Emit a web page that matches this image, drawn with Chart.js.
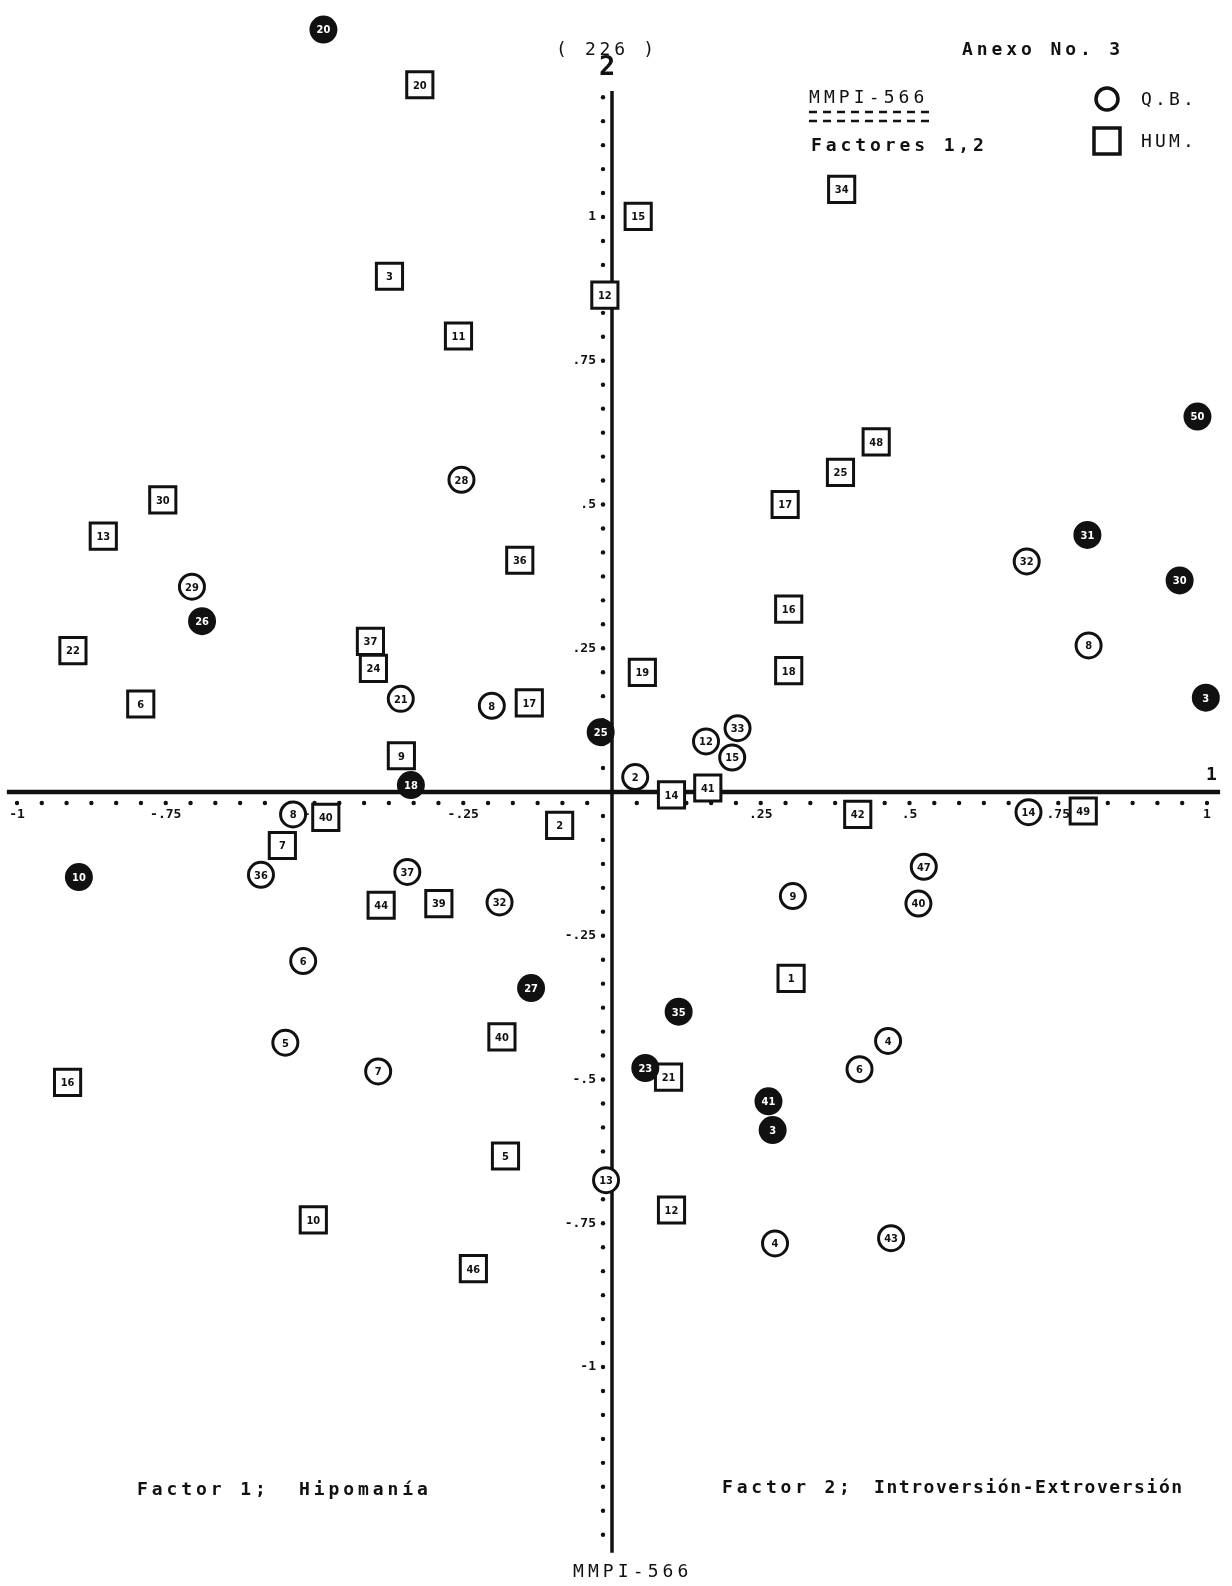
<!DOCTYPE html>
<html>
<head>
<meta charset="utf-8">
<script src="https://cdn.jsdelivr.net/npm/chart.js@4"></script>
<style>
  html, body { margin: 0; padding: 0; background: #fff; }
  #wrap { position: relative; width: 1232px; height: 1586px; overflow: hidden; background: #fff; }
  #c { position: absolute; left: 0; top: 0; }
  .t { position: absolute; font-family: "DejaVu Sans Mono", "Liberation Mono", monospace; font-weight: bold;
       font-size: 18px; line-height: 20px; white-space: pre; color: #111; }
</style>
</head>
<body>
<div id="wrap">
  <canvas id="c" width="1232" height="1586"></canvas>
  <div class="t" style="left:556px; top:39px; letter-spacing:3.7px; font-weight:normal;">( 226 )</div>
  <div class="t" style="left:599px; top:52px; font-size:27px; line-height:28px;">2</div>
  <div class="t" style="left:962px; top:39px; letter-spacing:3.9px;">Anexo No. 3</div>
  <div class="t" style="left:809px; top:87px; letter-spacing:4.1px; font-weight:normal;">MMPI-566</div>
  <div class="t" style="left:811px; top:135px; letter-spacing:3.9px;">Factores 1,2</div>
  <div class="t" style="left:1141px; top:89px; letter-spacing:3.2px; font-weight:normal;">Q.B.</div>
  <div class="t" style="left:1141px; top:131px; letter-spacing:3.2px; font-weight:normal;">HUM.</div>
  <div class="t" style="left:1206px; top:764px;">1</div>
  <div class="t" style="left:137px; top:1479px; letter-spacing:3.9px;">Factor 1;  Hipomanía</div>
  <div class="t" style="left:722px; top:1477px; letter-spacing:3.8px;">Factor 2;</div>
  <div class="t" style="left:874px; top:1477px; letter-spacing:1.55px;">Introversión-Extroversión</div>
  <div class="t" style="left:573px; top:1561px; letter-spacing:4.1px; font-weight:normal;">MMPI-566</div>
</div>
<script>
// ---- Data (Factor 1 = x, Factor 2 = y) ----
// Q.B. group (circles)
const qbX = [-0.485, 0.984, -0.253, 0.799, 0.697, -0.706, 0.954, -0.689, 0.801, -0.355,
             -0.202, 0.998, -0.019, 0.211, 0.158, 0.202, -0.338, 0.039, 0.700, -0.536,
             -0.590, -0.896, -0.344, 0.524, -0.189, 0.304, 0.515, -0.519, -0.136, 0.112,
             -0.549, 0.464, -0.393, 0.056, 0.416, 0.263, 0.270, -0.010, 0.274, 0.469];
const qbY = [1.326, 0.653, 0.543, 0.447, 0.401, 0.357, 0.368, 0.297, 0.255, 0.162,
             0.150, 0.164, 0.104, 0.111, 0.088, 0.060, 0.012, 0.026, -0.035, -0.039,
             -0.144, -0.148, -0.139, -0.130, -0.192, -0.181, -0.194, -0.294, -0.341, -0.382,
             -0.436, -0.433, -0.486, -0.480, -0.482, -0.538, -0.588, -0.675, -0.785, -0.776];
const qbLabels = ["20", "50", "28", "31", "32", "29", "30", "26", "8", "21",
                  "8", "3", "25", "33", "12", "15", "18", "2", "14", "8",
                  "36", "10", "37", "47", "32", "9", "40", "6", "27", "35",
                  "5", "4", "7", "23", "6", "41", "3", "13", "4", "43"];
const qbFilled = [true, true, false, true, false, false, true, true, false, false,
                  false, true, true, false, false, false, true, false, false, false,
                  false, true, false, false, false, false, false, false, true, true,
                  false, false, false, true, false, true, true, false, false, false];

// HUM. group (squares)
const humX = [-0.323, 0.386, 0.044, -0.374, -0.012, -0.258, 0.444, 0.384, -0.755, 0.291,
              -0.855, -0.155, 0.297, -0.906, -0.406, -0.401, 0.051, 0.297, -0.792, -0.139,
              -0.354, 0.100, 0.161, 0.413, 0.792, -0.481, -0.088, -0.554, -0.388, -0.291,
              0.301, -0.185, -0.915, 0.095, -0.179, 0.100, -0.502, -0.233];
const humY = [1.230, 1.048, 1.001, 0.897, 0.864, 0.793, 0.609, 0.556, 0.508, 0.500,
              0.445, 0.403, 0.318, 0.246, 0.262, 0.215, 0.208, 0.211, 0.153, 0.155,
              0.063, -0.005, 0.007, -0.039, -0.033, -0.044, -0.058, -0.093, -0.197, -0.194,
              -0.324, -0.426, -0.505, -0.496, -0.633, -0.727, -0.744, -0.829];
const humLabels = ["20", "34", "15", "3", "12", "11", "48", "25", "30", "17",
                   "13", "36", "16", "22", "37", "24", "19", "18", "6", "17",
                   "9", "14", "41", "42", "49", "40", "2", "7", "44", "39",
                   "1", "40", "16", "21", "5", "12", "10", "46"];

// ---- Axis tick labels ----
const xTickValues = [-1, -0.75, -0.5, -0.25, 0.25, 0.5, 0.75, 1];
const xTickLabels = ["-1", "-.75", "-.5", "-.25", ".25", ".5", ".75", "1"];
const yTickValues = [1, 0.75, 0.5, 0.25, -0.25, -0.5, -0.75, -1];
const yTickLabels = ["1", ".75", ".5", ".25", "-.25", "-.5", "-.75", "-1"];

// ---- Scale ranges ----
const X_MIN = -612 / 595, X_MAX = 620 / 595;
const Y_MIN = -794 / 575, Y_MAX = 792 / 575;
const AXIS_X_FROM = -1.017, AXIS_X_TO = 1.022;
const AXIS_Y_FROM = -1.323, AXIS_Y_TO = 1.219;

const toPts = (xs, ys) => xs.map((x, i) => ({ x: x, y: ys[i] }));
const INK = '#111';

const paperPlugin = {
  id: 'paper',
  beforeDatasetsDraw(chart) {
    const ctx = chart.ctx, xs = chart.scales.x, ys = chart.scales.y;
    const x0 = xs.getPixelForValue(0), y0 = ys.getPixelForValue(0);
    ctx.save();
    ctx.strokeStyle = INK; ctx.fillStyle = INK;
    // axes
    ctx.lineWidth = 4.5;
    ctx.beginPath();
    ctx.moveTo(xs.getPixelForValue(AXIS_X_FROM), y0);
    ctx.lineTo(xs.getPixelForValue(AXIS_X_TO), y0);
    ctx.stroke();
    ctx.lineWidth = 3.5;
    ctx.beginPath();
    ctx.moveTo(x0, ys.getPixelForValue(AXIS_Y_TO));
    ctx.lineTo(x0, ys.getPixelForValue(AXIS_Y_FROM));
    ctx.stroke();
    // dotted tick marks
    for (let k = -24; k <= 24; k++) {
      if (k === 0) continue;
      const v = k / 24;
      ctx.beginPath();
      ctx.arc(xs.getPixelForValue(v), y0 + 11, 2.2, 0, Math.PI * 2);
      ctx.fill();
    }
    for (let k = -31; k <= 29; k++) {
      if (k === 0) continue;
      const v = k / 24;
      ctx.beginPath();
      ctx.arc(x0 - 9, ys.getPixelForValue(v), 2.2, 0, Math.PI * 2);
      ctx.fill();
    }
    // tick labels
    ctx.font = 'bold 13px "DejaVu Sans Mono", monospace';
    ctx.textBaseline = 'middle';
    ctx.textAlign = 'center';
    xTickValues.forEach((v, i) => {
      ctx.fillText(xTickLabels[i], xs.getPixelForValue(v), y0 + 23);
    });
    ctx.textAlign = 'right';
    yTickValues.forEach((v, i) => {
      ctx.fillText(yTickLabels[i], x0 - 16, ys.getPixelForValue(v));
    });
    ctx.restore();
  },
  afterDatasetsDraw(chart) {
    const ctx = chart.ctx;
    ctx.save();
    ctx.font = 'bold 11px "DejaVu Sans Condensed", "DejaVu Sans", sans-serif';
    ctx.textAlign = 'center';
    ctx.textBaseline = 'middle';
    chart.data.datasets.forEach((ds, di) => {
      const meta = chart.getDatasetMeta(di);
      meta.data.forEach((el, i) => {
        const filled = ds.filled ? ds.filled[i] : false;
        ctx.fillStyle = filled ? '#fff' : INK;
        ctx.fillText(ds.labels[i], el.x, el.y + 1);
      });
    });
    ctx.restore();
  },
  afterDraw(chart) {
    const ctx = chart.ctx;
    ctx.save();
    ctx.strokeStyle = INK;
    // legend symbols
    ctx.lineWidth = 3.5;
    ctx.beginPath(); ctx.arc(1107, 99, 11, 0, Math.PI * 2); ctx.stroke();
    ctx.strokeRect(1094, 128, 26, 26);
    // dashed underline of MMPI-566
    ctx.lineWidth = 2.5;
    ctx.setLineDash([8, 6]);
    ctx.beginPath(); ctx.moveTo(809, 112); ctx.lineTo(929, 112); ctx.stroke();
    ctx.beginPath(); ctx.moveTo(809, 121); ctx.lineTo(929, 121); ctx.stroke();
    ctx.restore();
  }
};

new Chart(document.getElementById('c'), {
  type: 'scatter',
  data: {
    datasets: [
      {
        label: 'Q.B.',
        data: toPts(qbX, qbY),
        labels: qbLabels,
        filled: qbFilled,
        pointStyle: 'circle',
        pointRadius: 12.5,
        pointBorderWidth: 3,
        pointBorderColor: INK,
        pointBackgroundColor: qbFilled.map(f => f ? INK : '#fff'),
        clip: false
      },
      {
        label: 'HUM.',
        data: toPts(humX, humY),
        labels: humLabels,
        pointStyle: 'rect',
        pointRadius: 18.5,
        pointBorderWidth: 3,
        pointBorderColor: INK,
        pointBackgroundColor: '#fff',
        clip: false
      }
    ]
  },
  options: {
    responsive: false,
    animation: false,
    devicePixelRatio: 1,
    layout: { padding: 0, autoPadding: false },
    plugins: { legend: { display: false }, tooltip: { enabled: false } },
    scales: {
      x: { type: 'linear', min: X_MIN, max: X_MAX, display: false },
      y: { type: 'linear', min: Y_MIN, max: Y_MAX, display: false }
    }
  },
  plugins: [paperPlugin]
});
</script>
</body>
</html>
